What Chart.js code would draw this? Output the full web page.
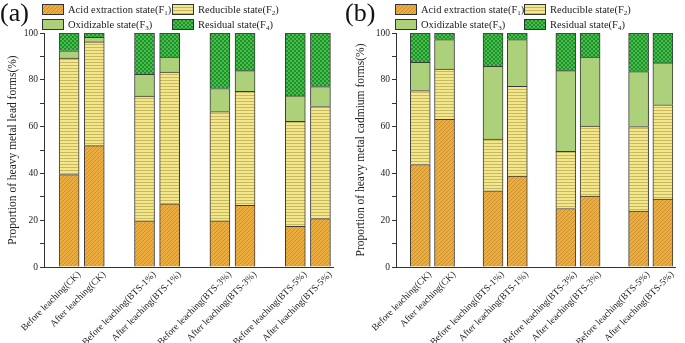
<!DOCTYPE html>
<html lang="en">
<head>
<meta charset="UTF-8">
<title>Heavy metal forms before and after leaching</title>
<script src="https://cdn.jsdelivr.net/npm/chart.js"></script>
<style>
    body {
        margin: 0;
        width: 685px;
        height: 343px;
        position: relative;
        overflow: hidden;
        background: #fff;
        font-family: "Liberation Serif", "Times New Roman", serif;
        color: #222;
    }
    .panel { position: absolute; top: 0; height: 343px; }
    #panelA { left: 0; width: 343px; }
    #panelB { left: 343px; width: 342px; }
    .panel canvas { position: absolute; left: 0; top: 0; }
    .tag { position: absolute; top: -2px; font-size: 26px; color: #111; }
    .item { position: absolute; white-space: nowrap; font-size: 10.5px; line-height: 12px; height: 12px; }
    .sw {
        display: inline-block; width: 22px; height: 11px; margin-right: 4px;
        border: 1px solid #333; box-sizing: border-box; vertical-align: top;
    }
    sub { font-size: 7px; line-height: 0; vertical-align: -2px; }
</style>
</head>
<body>

<div class="panel" id="panelA">
    <canvas id="chartA" width="343" height="343"></canvas>
    <div class="tag" style="left:0">(a)</div>
    <div class="legend" id="legendA"></div>
</div>
<div class="panel" id="panelB">
    <canvas id="chartB" width="342" height="343"></canvas>
    <div class="tag" style="left:2px">(b)</div>
    <div class="legend" id="legendB"></div>
</div>

<script>
// bars, left to right
const categories = [
    "Before leaching(CK)", "After leaching(CK)",
    "Before leaching(BTS-1%)", "After leaching(BTS-1%)",
    "Before leaching(BTS-3%)", "After leaching(BTS-3%)",
    "Before leaching(BTS-5%)", "After leaching(BTS-5%)"
];
const formNames = ["Acid extraction state", "Reducible state", "Oxidizable state", "Residual state"];
const formSubs = ["1", "2", "3", "4"];
const yTicks = [0, 20, 40, 60, 80, 100];

// (a) lead, % of each form
const leadF1 = [39.5, 51.9, 19.7, 27.0, 19.7, 26.4, 17.4, 20.7];
const leadF2 = [49.8, 44.3, 53.3, 56.3, 46.7, 48.7, 44.9, 47.9];
const leadF3 = [3.1, 2.0, 9.3, 6.4, 9.9, 8.8, 10.8, 8.5];
const leadF4 = [7.6, 1.8, 17.7, 10.3, 23.7, 16.1, 26.9, 22.9];

// (b) cadmium, % of each form
const cadF1 = [43.8, 63.1, 32.6, 38.9, 25.0, 30.3, 23.9, 29.0];
const cadF2 = [31.6, 21.5, 22.1, 38.3, 24.4, 29.9, 36.1, 40.3];
const cadF3 = [12.1, 12.6, 31.1, 20.0, 34.5, 29.5, 23.5, 17.9];
const cadF4 = [12.5, 2.8, 14.2, 2.8, 16.1, 10.3, 16.5, 12.8];

// pairs are separated by one empty slot
const slotOf = i => i + Math.floor(i / 2);

// fill patterns for the four forms
function tile(kind) {
    const c = document.createElement("canvas");
    const g = c.getContext("2d");
    if (kind === 0) {
        c.width = 4; c.height = 4;
        g.fillStyle = "#EBAD40"; g.fillRect(0, 0, 4, 4);
        g.strokeStyle = "#BF8728"; g.lineWidth = 0.7;
        g.beginPath();
        g.moveTo(0, 4); g.lineTo(4, 0);
        g.moveTo(-1, 1); g.lineTo(1, -1);
        g.moveTo(3, 5); g.lineTo(5, 3);
        g.stroke();
    } else if (kind === 1) {
        c.width = 4; c.height = 3;
        g.fillStyle = "#F3E78E"; g.fillRect(0, 0, 4, 3);
        g.fillStyle = "#C9B85C"; g.fillRect(0, 2, 4, 1);
    } else if (kind === 2) {
        c.width = 2; c.height = 2;
        g.fillStyle = "#ADD17A"; g.fillRect(0, 0, 2, 2);
    } else {
        c.width = 4; c.height = 4;
        g.fillStyle = "#46BE4C"; g.fillRect(0, 0, 4, 4);
        g.fillStyle = "#23902E";
        g.fillRect(0, 0, 2, 2); g.fillRect(2, 2, 2, 2);
    }
    return c;
}
const tiles = [0, 1, 2, 3].map(tile);
const ctxTmp = document.createElement("canvas").getContext("2d");
const fills = tiles.map(t => ctxTmp.createPattern(t, "repeat"));

function buildLegend(id, left1, left2) {
    const lefts = [left1, left2, left1, left2];
    const tops = [4, 4, 19, 19];
    let html = "";
    formNames.forEach((n, i) => {
        html += `<div class="item" style="left:${lefts[i]}px;top:${tops[i]}px">` +
            `<span class="sw" style="background-image:url(${tiles[i].toDataURL()})"></span>` +
            `${n}(F<sub>${formSubs[i]}</sub>)</div>`;
    });
    document.getElementById(id).innerHTML = html;
}
buildLegend("legendA", 42, 172);
buildLegend("legendB", 52, 181);

function makeChart(canvasId, series, yTitle, padLeft, yWidth) {
    const font = { family: "'Liberation Serif', 'Times New Roman', serif" };
    new Chart(document.getElementById(canvasId), {
        type: "bar",
        data: {
            datasets: series.map((vals, s) => ({
                label: formNames[s] + "(F" + formSubs[s] + ")",
                data: vals.map((v, i) => ({ x: slotOf(i), y: v })),
                backgroundColor: fills[s],
                borderColor: "#3a3a3a",
                borderWidth: 1,
                barThickness: 20
            }))
        },
        options: {
            responsive: false,
            animation: false,
            layout: { padding: { top: 33, left: padLeft, right: 10, bottom: 0 } },
            plugins: { legend: { display: false }, tooltip: { enabled: false } },
            scales: {
                x: {
                    type: "linear",
                    offset: false,
                    stacked: true,
                    min: -1,
                    max: 10.5,
                    // label anchors sit a little right of each bar centre, as in the original
                    afterBuildTicks: sc => { sc.ticks = categories.map((c, i) => ({ value: slotOf(i) + 0.4 })); },
                    afterFit: sc => { sc.height = 76; },
                    grid: { display: false },
                    border: { display: true, color: "#333", width: 1 },
                    ticks: {
                        autoSkip: false,
                        maxRotation: 45,
                        minRotation: 45,
                        padding: -6,
                        color: "#222",
                        font: Object.assign({ size: 9.5 }, font),
                        callback: (v, i) => categories[i]
                    }
                },
                y: {
                    stacked: true,
                    min: 0,
                    max: 100,
                    afterFit: sc => { sc.width = yWidth; },
                    grid: { drawOnChartArea: false, drawTicks: true, tickLength: 4, color: "#333" },
                    border: { display: true, color: "#333", width: 1 },
                    ticks: {
                        stepSize: 10,
                        padding: 2,
                        color: "#222",
                        font: Object.assign({ size: 9.5 }, font),
                        callback: v => (yTicks.includes(v) ? v : "")
                    },
                    title: {
                        display: true,
                        text: yTitle,
                        color: "#222",
                        padding: { top: 6, bottom: 0 },
                        font: Object.assign({ size: 11.5 }, font)
                    }
                }
            }
        }
    });
}

makeChart("chartA", [leadF1, leadF2, leadF3, leadF4], "Proportion of heavy metal lead forms(%)", 0, 44);
makeChart("chartB", [cadF1, cadF2, cadF3, cadF4], "Proportion of heavy metal cadmium forms(%)", 5, 48);
</script>

</body>
</html>
